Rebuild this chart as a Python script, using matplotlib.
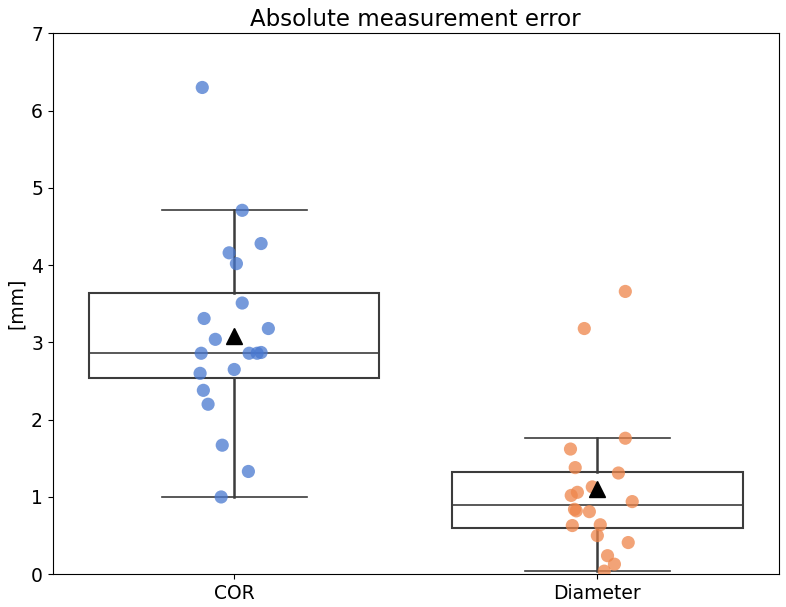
import matplotlib
matplotlib.use("Agg")
import matplotlib.pyplot as plt
import numpy as np

categories = ["COR", "Diameter"]

cor_err = [6.30, 4.71, 4.28, 4.16, 4.02, 3.51, 3.31, 3.18, 3.04, 2.86,
           2.86, 2.86, 2.87, 2.65, 2.60, 2.38, 2.20, 1.67, 1.33, 1.00]
cor_jit = [-0.088, 0.022, 0.074, -0.014, 0.006, 0.022, -0.083, 0.094, -0.052, -0.091,
           0.041, 0.063, 0.074, 0.0, -0.094, -0.085, -0.072, -0.033, 0.039, -0.036]

dia_err = [3.66, 3.18, 1.76, 1.62, 1.38, 1.31, 1.13, 1.06, 1.02, 0.94,
           0.84, 0.82, 0.81, 0.63, 0.64, 0.50, 0.41, 0.24, 0.13, 0.04]
dia_jit = [0.077, -0.036, 0.077, -0.074, -0.061, 0.058, -0.014, -0.055, -0.072, 0.096,
           -0.063, -0.058, -0.022, -0.069, 0.008, 0.0, 0.085, 0.028, 0.047, 0.019]

colors = ["#4878D0", "#EE854A"]
line_c = "#3c3c3c"

fig = plt.figure(figsize=(7.86, 6.07), dpi=100)
ax = fig.add_axes([0.067, 0.054, 0.924, 0.891])

data = [cor_err, dia_err]
x = np.arange(len(categories))

ax.boxplot(data, positions=x, widths=0.8, showfliers=False, showmeans=False,
           patch_artist=True,
           boxprops=dict(facecolor="none", edgecolor=line_c, linewidth=1.5),
           medianprops=dict(color=line_c, linewidth=1.2),
           whiskerprops=dict(color=line_c, linewidth=1.8),
           capprops=dict(color=line_c, linewidth=1.2),
           zorder=2)

# points with hand-read jitter
for i, (vals, jit) in enumerate([(cor_err, cor_jit), (dia_err, dia_jit)]):
    ax.scatter(np.array(jit) + x[i], vals, s=90, color=colors[i], alpha=0.75,
               edgecolors="none", zorder=3)

# means on top
for i, vals in enumerate(data):
    ax.plot(x[i], np.mean(vals), marker="^", color="black", markersize=12, zorder=4)

ax.set_xlim(-0.5, 1.5)
ax.set_ylim(0, 7)
ax.set_xticks(x)
ax.set_xticklabels(categories)
ax.tick_params(labelsize=13.5)
ax.set_ylabel("[mm]", fontsize=13.5)
ax.set_title("Absolute measurement error", fontsize=16.5, pad=5)

fig.savefig("out.png", dpi=100)
